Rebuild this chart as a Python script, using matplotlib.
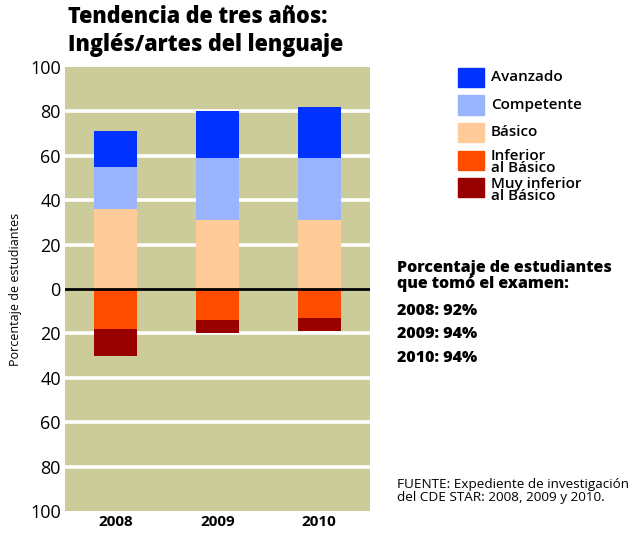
import numpy as np
import matplotlib
matplotlib.use("Agg")
import matplotlib.pyplot as plt
from matplotlib.patches import Rectangle

plt.rcParams["font.family"] = ["Open Sans", "DejaVu Sans"]

YEARS = ["2008", "2009", "2010"]
# above zero (stacked upward)
BASICO = [36, 31, 31]
COMPETENTE = [19, 28, 28]
AVANZADO = [16, 21, 23]
# below zero (stacked downward)
INFERIOR = [18, 14, 13]
MUY_INFERIOR = [12, 6, 6]

LEGEND_LABELS = ["Avanzado", "Competente", "Básico", "Inferior\nal Básico", "Muy inferior\nal Básico"]
COLORS = ["#0033FF", "#99B3FF", "#FFCC99", "#FF4D00", "#990000"]
TOOK = ["2008: 92%", "2009: 94%", "2010: 94%"]
YTICKS = [-100, -80, -60, -40, -20, 0, 20, 40, 60, 80, 100]

W, H = 641, 538
fig = plt.figure(figsize=(W / 100, H / 100), dpi=100)
ax = fig.add_axes([65 / W, 1 - 511 / H, 305 / W, 444 / H])
ax.set_facecolor("#CCCB9A")

x = np.arange(len(YEARS))
bw = 0.42
ax.bar(x, BASICO, bw, color=COLORS[2], zorder=3)
ax.bar(x, COMPETENTE, bw, bottom=BASICO, color=COLORS[1], zorder=3)
ax.bar(x, AVANZADO, bw, bottom=np.add(BASICO, COMPETENTE), color=COLORS[0], zorder=3)
ax.bar(x, -np.array(INFERIOR), bw, color=COLORS[3], zorder=3)
ax.bar(x, -np.array(MUY_INFERIOR), bw, bottom=-np.array(INFERIOR), color=COLORS[4], zorder=3)

ax.set_xlim(-0.5, 2.5)
ax.set_ylim(-100, 100)
for v in YTICKS:
    if v not in (0, 100, -100):
        ax.axhline(v, color="white", lw=2.6, zorder=2)
ax.axhline(0, color="black", lw=2, zorder=4)
ax.set_yticks(YTICKS)
ax.set_yticklabels([str(abs(v)) for v in YTICKS], fontsize=13)
ax.set_xticks(x)
ax.set_xticklabels(YEARS, fontsize=11, fontweight="bold")
ax.tick_params(length=0, pad=3)
for s in ax.spines.values():
    s.set_visible(False)
ax.set_ylabel("Porcentaje de estudiantes", fontsize=9, labelpad=6)

fig.text(68 / W, 1 - 5 / H, "Tendencia de tres años:\nInglés/artes del lenguaje",
         fontsize=15.5, fontweight="heavy", va="top", ha="left", linespacing=1.2)

# legend drawn by hand
for i, (lab, col) in enumerate(zip(LEGEND_LABELS, COLORS)):
    top = 68 + i * 27.5
    fig.add_artist(Rectangle((458 / W, 1 - (top + 19) / H), 26 / W, 19 / H,
                             transform=fig.transFigure, color=col))
    fig.text(491 / W, 1 - (top - 1) / H if "\n" in lab else 1 - (top + 9.5) / H, lab,
             fontsize=11, fontweight="semibold", va="top" if "\n" in lab else "center",
             ha="left", linespacing=0.8)

fig.text(397 / W, 1 - 260 / H, "Porcentaje de estudiantes\nque tomó el examen:",
         fontsize=11.5, fontweight="heavy", va="top", ha="left", linespacing=1.0)
for i, t in enumerate(TOOK):
    fig.text(397 / W, 1 - (311 + i * 23.5) / H, t, fontsize=11.5, fontweight="heavy",
             va="center", ha="left")

fig.text(397 / W, 1 - 478 / H, "FUENTE: Expediente de investigación\ndel CDE STAR: 2008, 2009 y 2010.",
         fontsize=9.7, va="top", ha="left", linespacing=1.05)

fig.savefig("out.png", dpi=100)
